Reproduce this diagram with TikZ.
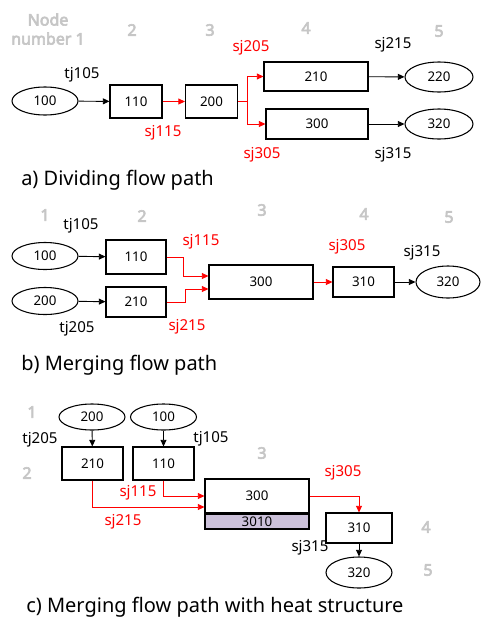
\documentclass[tikz,border=0pt]{standalone}
\usepackage{fontspec}
\setmainfont{Noto Sans}
\newfontfamily\numfont{Noto Sans}[FakeBold=4]
\usetikzlibrary{shapes.geometric,arrows.meta,calc}
\definecolor{numgray}{RGB}{198,198,198}
\definecolor{hsfill}{RGB}{204,193,218}
\definecolor{flowred}{RGB}{255,0,0}
\tikzset{
  vol/.style 2 args={draw,line width=0.8pt,rectangle,inner sep=0pt,
    minimum width=#1,minimum height=#2,font=\fontsize{10}{12}\selectfont},
  bnd/.style 2 args={draw,line width=0.8pt,ellipse,inner sep=0pt,
    minimum width=#1,minimum height=#2,font=\fontsize{10}{12}\selectfont},
  lbl/.style={font=\fontsize{11.3}{13}\selectfont,inner sep=0pt},
  rlbl/.style={lbl,text=flowred},
  num/.style={font=\numfont\fontsize{12}{14.25}\selectfont,text=numgray,inner sep=0pt,align=center},
  captext/.style={font=\fontsize{15}{17}\selectfont,inner sep=0pt,anchor=west},
  flow/.style={line width=0.7pt,-{Triangle[length=5pt,width=4.5pt]}},
  rflow/.style={flow,color=flowred},
}
\begin{document}
\begin{tikzpicture}[x=0.75pt,y=-0.75pt]
\useasboundingbox (0,0) rectangle (481,618);

% ---------- a) dividing flow path ----------
\node[num] (an1) at (48,29) {Node\\number 1};
\node[num] (an2) at (132,30) {2};
\node[num] (an3) at (210,30) {3};
\node[num] (an4) at (306,28) {4};
\node[num] (an5) at (439,31) {5};

\node[bnd={49.5pt}{21pt}] (a100) at (45,101) {100};
\node[vol={39pt}{24.75pt}] (a110) at (136,101.5) {110};
\node[vol={39pt}{24.75pt}] (a200) at (211.5,101.5) {200};
\node[vol={78pt}{21.75pt}] (a210) at (316,76.5) {210};
\node[vol={76.5pt}{22.5pt}] (a300) at (317,124) {300};
\node[bnd={51pt}{22.5pt}] (a220) at (439,77) {220};
\node[bnd={51pt}{22.5pt}] (a320) at (439,124) {320};

\draw[flow] (a100) -- (a110);
\draw[rflow] (a110) -- (a200);
\draw[rflow] (a200.east) -- ++(9,0) |- (a210.west);
\draw[rflow] (a200.east) -- ++(9,0) |- (a300.west);
\draw[flow] (a210) -- (a220);
\draw[flow] (a300) -- (a320);

\node[lbl] (atj105) at (82,75) {tj105};
\node[rlbl] (asj115) at (163,133) {sj115};
\node[rlbl] (asj205) at (251,48) {sj205};
\node[rlbl] (asj305) at (262,155) {sj305};
\node[lbl] (asj215) at (393,45) {sj215};
\node[lbl] (asj315) at (393,155) {sj315};
\node[captext] (acap) at (21,180) {a)\ Dividing flow path};

% ---------- b) merging flow path ----------
\node[num] (bn1) at (45,215) {1};
\node[num] (bn2) at (142,216) {2};
\node[num] (bn3) at (262,210) {3};
\node[num] (bn4) at (364,214) {4};
\node[num] (bn5) at (449,217) {5};

\node[bnd={49.5pt}{20.25pt}] (b100) at (45,256) {100};
\node[vol={45pt}{25.5pt}] (b110) at (136,257) {110};
\node[bnd={49.5pt}{20.25pt}] (b200) at (45,301) {200};
\node[vol={45pt}{22.5pt}] (b210) at (136,302) {210};
\node[vol={78pt}{25.5pt}] (b300) at (261,282) {300};
\node[vol={45.75pt}{22.5pt}] (b310) at (363.5,282) {310};
\node[bnd={48pt}{24pt}] (b320) at (448,282) {320};

\draw[flow] (b100) -- (b110);
\draw[flow] (b200) -- (b210);
\draw[rflow] (b110.east) -- ++(17,0) |- ($(b300.west)+(0,-6)$);
\draw[rflow] (b210.east) -- ++(19,0) |- ($(b300.west)+(0,7)$);
\draw[rflow] (b300) -- (b310);
\draw[flow] (b310) -- (b320);

\node[lbl] (btj105) at (81,226) {tj105};
\node[lbl] (btj205) at (77,329) {tj205};
\node[rlbl] (bsj115) at (201,242) {sj115};
\node[rlbl] (bsj215) at (187,327) {sj215};
\node[rlbl] (bsj305) at (347,247) {sj305};
\node[lbl] (bsj315) at (422,253) {sj315};
\node[captext] (bcap) at (21,365) {b)\ Merging flow path};

% ---------- c) merging flow path with heat structure ----------
\node[num] (cn1) at (32,412) {1};
\node[num] (cn2) at (27,473) {2};
\node[num] (cn3) at (262,453) {3};
\node[num] (cn4) at (426,527) {4};
\node[num] (cn5) at (428,570) {5};

\node[bnd={49.5pt}{19.5pt}] (c200) at (92,417) {200};
\node[bnd={49.5pt}{19.5pt}] (c100) at (163.5,417) {100};
\node[vol={45.75pt}{24.75pt}] (c210) at (92.5,463.5) {210};
\node[vol={45.75pt}{24.75pt}] (c110) at (163.5,463.5) {110};
\node[vol={78pt}{25.5pt}] (c300) at (257,496) {300};
\node[vol={78pt}{11.25pt},fill=hsfill,line width=1pt] (c3010) at (257,521.5) {3010};
\node[vol={49.5pt}{22.5pt}] (c310) at (359,528) {310};
\node[bnd={49.5pt}{23.25pt}] (c320) at (359,572.5) {320};

\draw[flow] (c200) -- (c210);
\draw[flow] (c100) -- (c110);
\draw[rflow] (c110.south) |- (c300.west);
\draw[rflow] (c210.south) |- ($(c300.west)+(0,11)$);
\draw[rflow] (c300.east) -| (c310.north);
\draw[flow] (c310) -- (c320);

\node[lbl] (ctj205) at (40,440) {tj205};
\node[lbl] (ctj105) at (211,439) {tj105};
\node[rlbl] (csj115) at (138,493) {sj115};
\node[rlbl] (csj215) at (123,522) {sj215};
\node[rlbl] (csj305) at (343,473) {sj305};
\node[lbl] (csj315) at (310,548) {sj315};
\node[captext] (ccap) at (26,607) {c)\ Merging flow path with heat structure};
\end{tikzpicture}
\end{document}
